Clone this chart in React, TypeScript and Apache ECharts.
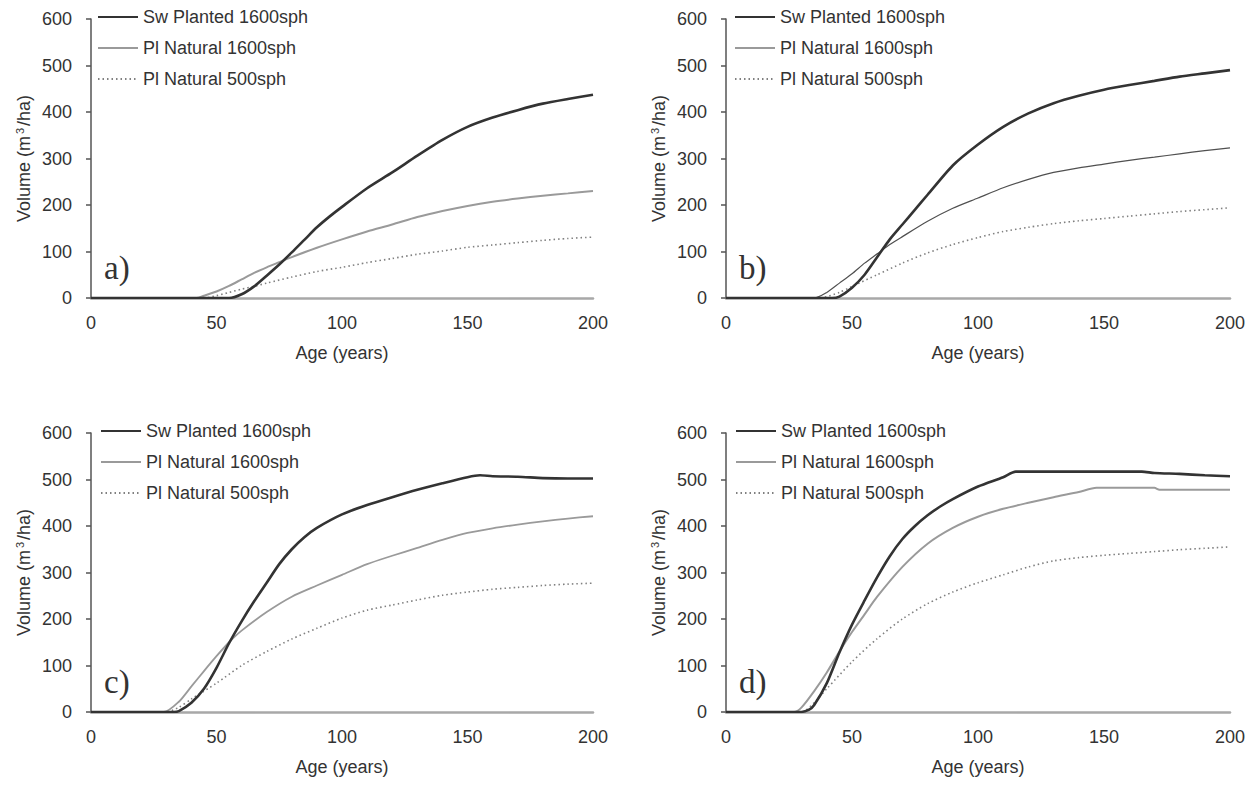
import React, { useEffect, useRef } from "react";
import * as echarts from "echarts";

// ---------- data (age in years, volume in m3/ha) ----------
// Panel a)
const swAgeA = [0, 55, 60, 65, 70, 75, 80, 85, 90, 95, 100, 110, 120, 130, 140, 150, 160, 170, 180, 190, 200];
const swVolA = [0, 0, 8, 25, 48, 72, 98, 125, 152, 175, 196, 236, 270, 306, 340, 368, 388, 404, 418, 428, 437];
const pl16AgeA = [0, 42, 45, 50, 55, 60, 65, 70, 75, 80, 90, 100, 110, 120, 130, 140, 150, 160, 170, 180, 190, 200];
const pl16VolA = [0, 0, 5, 14, 26, 40, 54, 66, 77, 88, 108, 126, 143, 158, 174, 187, 198, 207, 214, 220, 225, 230];
const pl5AgeA = [0, 45, 50, 55, 60, 65, 70, 80, 90, 100, 110, 120, 130, 140, 150, 160, 170, 180, 190, 200];
const pl5VolA = [0, 0, 5, 12, 19, 25, 32, 45, 57, 66, 76, 85, 94, 101, 109, 114, 119, 124, 128, 131];

// Panel b)
const swAgeB = [0, 42, 45, 50, 55, 60, 65, 70, 75, 80, 90, 100, 110, 120, 130, 140, 150, 160, 170, 180, 190, 200];
const swVolB = [0, 0, 3, 22, 50, 88, 126, 158, 190, 222, 285, 330, 368, 397, 419, 435, 448, 458, 467, 476, 483, 490];
const pl16AgeB = [0, 35, 40, 45, 50, 55, 60, 65, 70, 80, 90, 100, 110, 120, 130, 140, 150, 160, 170, 180, 190, 200];
const pl16VolB = [0, 0, 12, 32, 52, 75, 95, 115, 132, 165, 193, 215, 237, 255, 270, 280, 288, 296, 303, 310, 317, 323];
const pl5AgeB = [0, 37, 45, 50, 60, 70, 80, 90, 100, 110, 120, 130, 140, 150, 160, 170, 180, 190, 200];
const pl5VolB = [0, 0, 12, 25, 50, 75, 97, 115, 130, 143, 152, 160, 166, 171, 176, 181, 186, 190, 194];

// Panel c)
const swAgeC = [0, 33, 35, 40, 45, 50, 55, 60, 65, 70, 75, 80, 85, 90, 100, 110, 120, 130, 140, 150, 155, 160, 170, 180, 190, 200];
const swVolC = [0, 0, 2, 20, 50, 95, 148, 195, 238, 278, 318, 350, 376, 396, 425, 445, 462, 478, 492, 505, 509, 507, 506, 503, 502, 502];
const pl16AgeC = [0, 29, 35, 40, 45, 50, 55, 60, 70, 80, 90, 100, 110, 120, 130, 140, 150, 160, 170, 180, 190, 200];
const pl16VolC = [0, 0, 22, 55, 88, 120, 150, 175, 215, 248, 272, 295, 318, 336, 353, 370, 385, 395, 403, 410, 416, 421];
const pl5AgeC = [0, 30, 35, 40, 50, 60, 70, 80, 90, 100, 110, 120, 130, 140, 150, 160, 170, 180, 190, 200];
const pl5VolC = [0, 0, 10, 28, 62, 100, 130, 157, 180, 202, 219, 230, 241, 251, 258, 264, 268, 272, 275, 277];

// Panel d)
const swAgeD = [0, 30, 33, 35, 40, 45, 50, 55, 60, 65, 70, 75, 80, 85, 90, 100, 110, 115, 130, 150, 165, 170, 180, 190, 200];
const swVolD = [0, 0, 5, 15, 62, 128, 188, 240, 290, 335, 372, 400, 423, 442, 458, 485, 505, 517, 517, 517, 517, 514, 512, 509, 507];
const pl16AgeD = [0, 27, 30, 35, 40, 45, 50, 55, 60, 70, 80, 90, 100, 110, 120, 130, 140, 147, 160, 170, 172, 200];
const pl16VolD = [0, 0, 10, 45, 85, 130, 172, 210, 248, 312, 362, 396, 420, 437, 450, 462, 473, 482, 482, 482, 478, 478];
const pl5AgeD = [0, 30, 35, 40, 50, 60, 70, 80, 90, 100, 110, 120, 130, 140, 150, 160, 170, 180, 190, 200];
const pl5VolD = [0, 0, 20, 50, 108, 158, 200, 233, 258, 278, 295, 312, 325, 332, 337, 341, 345, 349, 352, 355];

const panelLetters = ["a)", "b)", "c)", "d)"];
const seriesNames = ["Sw Planted 1600sph", "Pl Natural 1600sph", "Pl Natural 500sph"];
const yTicks = { min: 0, max: 600, interval: 100 };
const xTicks = { min: 0, max: 200, interval: 50 };

const panels = [
  { sw: [swAgeA, swVolA], p16: [pl16AgeA, pl16VolA], p5: [pl5AgeA, pl5VolA] },
  { sw: [swAgeB, swVolB], p16: [pl16AgeB, pl16VolB], p5: [pl5AgeB, pl5VolB] },
  { sw: [swAgeC, swVolC], p16: [pl16AgeC, pl16VolC], p5: [pl5AgeC, pl5VolC] },
  { sw: [swAgeD, swVolD], p16: [pl16AgeD, pl16VolD], p5: [pl5AgeD, pl5VolD] },
];

// ---------- layout / style ----------
const FONT = "Liberation Sans, Arial, sans-serif";
const grids = [
  { left: 91, top: 19, width: 502, height: 279 },
  { left: 726, top: 19, width: 504, height: 279 },
  { left: 91, top: 433, width: 502, height: 279 },
  { left: 726, top: 433, width: 504, height: 279 },
];
const legendLeft = [97, 734, 100, 735];
const p16Style = [
  { color: "#9a9a9a", width: 2 },
  { color: "#505050", width: 1.2 },
  { color: "#9a9a9a", width: 1.8 },
  { color: "#9a9a9a", width: 2 },
];

const zip = (a: number[], b: number[]) => a.map((x, i) => [x, b[i]]);

export default function App() {
  const ref = useRef<HTMLDivElement>(null);
  useEffect(() => {
    if (!ref.current) return;
    const chart = echarts.init(ref.current, null, { renderer: "svg" });

    const xAxis: any[] = [];
    const yAxis: any[] = [];
    const series: any[] = [];
    const legend: any[] = [];
    const graphic: any[] = [];

    grids.forEach((g, i) => {
      xAxis.push({
        gridIndex: i,
        type: "value",
        ...xTicks,
        name: "Age (years)",
        nameLocation: "middle",
        nameGap: 46,
        nameTextStyle: { fontFamily: FONT, fontSize: 18, color: "#333" },
        axisLine: { show: true, onZero: false, lineStyle: { color: "#a8a8a8", width: 2.5 } },
        axisTick: { show: false },
        splitLine: { show: false },
        axisLabel: { fontFamily: FONT, fontSize: 18, color: "#333", margin: 16 },
      });
      yAxis.push({
        gridIndex: i,
        type: "value",
        ...yTicks,
        name: "Volume (m{sup|3}/ha)",
        nameLocation: "middle",
        nameGap: 58,
        nameTextStyle: {
          fontFamily: FONT,
          fontSize: 18,
          color: "#333",
          rich: { sup: { fontFamily: FONT, fontSize: 11, color: "#333", padding: [0, 2, 8, 2] } },
        },
        axisLine: { show: true, lineStyle: { color: "#555", width: 1.5 } },
        axisTick: { show: true, inside: false, length: 5, lineStyle: { color: "#555", width: 1.5 } },
        splitLine: { show: false },
        axisLabel: { fontFamily: FONT, fontSize: 18, color: "#333", margin: 19 },
      });
      const p = panels[i];
      const common = {
        type: "line",
        xAxisIndex: i,
        yAxisIndex: i,
        symbol: "none",
        showSymbol: false,
        smooth: 0.25,
      };
      series.push({
        ...common,
        name: seriesNames[0],
        data: zip(p.sw[0], p.sw[1]),
        lineStyle: { color: "#333", width: 2.6 },
        itemStyle: { color: "#333" },
        z: 4,
      });
      series.push({
        ...common,
        name: seriesNames[1],
        data: zip(p.p16[0], p.p16[1]),
        lineStyle: { color: p16Style[i].color, width: p16Style[i].width },
        itemStyle: { color: p16Style[i].color },
        z: 3,
      });
      series.push({
        ...common,
        name: seriesNames[2],
        data: zip(p.p5[0], p.p5[1]),
        lineStyle: { color: "#808080", width: 1.6, type: [1.5, 3] },
        itemStyle: { color: "#808080" },
        z: 2,
      });
      legend.push({
        show: true,
        orient: "vertical",
        left: legendLeft[i],
        top: g.top - 11,
        itemWidth: 40,
        itemHeight: 14,
        itemGap: 13,
        selectedMode: false,
        padding: 0,
        data: seriesNames,
        itemStyle: { opacity: 0 },
        textStyle: { fontFamily: FONT, fontSize: 18, color: "#333" },
      });
      graphic.push({
        type: "text",
        left: g.left + 13,
        top: g.top + g.height - 47,
        style: {
          text: panelLetters[i],
          font: "33px 'Liberation Serif', 'Times New Roman', serif",
          fill: "#333",
        },
      });
    });

    chart.setOption({
      animation: false,
      backgroundColor: "#fff",
      grid: grids.map((g) => ({ ...g, containLabel: false })),
      xAxis,
      yAxis,
      series,
      legend,
      graphic,
    });
    return () => chart.dispose();
  }, []);

  return (
    <div
      ref={ref}
      style={{ position: "fixed", left: 0, top: 0, width: 1255, height: 786, background: "#fff" }}
    />
  );
}
